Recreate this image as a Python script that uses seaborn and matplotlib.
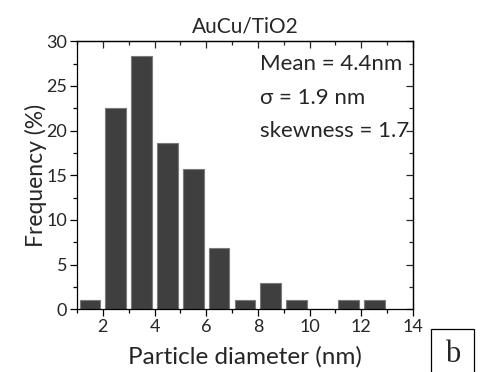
import matplotlib
matplotlib.use("Agg")
import matplotlib.pyplot as plt
import seaborn as sns
import pandas as pd
from matplotlib.ticker import MultipleLocator
from matplotlib.patches import Rectangle

# Particle size histogram (bin centres in nm, frequency in %)
diameter_nm = [1.5, 2.5, 3.5, 4.5, 5.5, 6.5, 7.5, 8.5, 9.5, 10.5, 11.5, 12.5]
frequency_pct = [1.0, 22.5, 28.4, 18.6, 15.7, 6.9, 1.0, 2.9, 1.0, 0.0, 1.0, 1.0]
stats_lines = ["Mean = 4.4nm", "\u03c3 = 1.9 nm", "skewness = 1.7"]
x_ticks = [2, 4, 6, 8, 10, 12, 14]
y_ticks = [0, 5, 10, 15, 20, 25, 30]

sns.set_style("white")
plt.rcParams["font.family"] = ["Lato", "DejaVu Sans"]

df = pd.DataFrame({"d": diameter_nm, "f": frequency_pct})

fig = plt.figure(figsize=(4.8, 3.72), dpi=100)
ax = fig.add_axes([0.1604, 0.1685, 0.70, 0.7204])

sns.barplot(data=df, x="d", y="f", native_scale=True, width=0.8,
            color="#3f3f3f", saturation=1, edgecolor="#7a7a7a",
            linewidth=0.8, ax=ax)

ax.set_xlim(1, 14)
ax.set_ylim(0, 30)
ax.set_xticks(x_ticks)
ax.set_xticklabels([str(t) for t in x_ticks])
ax.set_yticks(y_ticks)
ax.set_yticklabels([str(t) for t in y_ticks])
ax.xaxis.set_minor_locator(MultipleLocator(1))
ax.yaxis.set_minor_locator(MultipleLocator(2.5))

for s in ax.spines.values():
    s.set_visible(True)
    s.set_color("black")
    s.set_linewidth(0.9)

ax.tick_params(axis="both", which="major", direction="out", length=5,
               width=0.9, labelsize=13, color="black", pad=2,
               bottom=True, left=True, top=False, right=False)
ax.tick_params(axis="both", which="minor", direction="out", length=3,
               width=0.9, color="black", bottom=True, left=True,
               top=False, right=False)

# inward ticks on the top and right frame
top = ax.secondary_xaxis("top")
top.set_xticks(x_ticks)
top.xaxis.set_minor_locator(MultipleLocator(1))
top.tick_params(which="major", direction="in", length=5, width=0.9, labeltop=False)
top.tick_params(which="minor", direction="in", length=3, width=0.9)
top.spines["top"].set_linewidth(0.9)

right = ax.secondary_yaxis("right")
right.set_yticks(y_ticks)
right.yaxis.set_minor_locator(MultipleLocator(2.5))
right.tick_params(which="major", direction="in", length=5, width=0.9, labelright=False)
right.tick_params(which="minor", direction="in", length=3, width=0.9)
right.spines["right"].set_linewidth(0.9)

ax.set_xlabel("Particle diameter (nm)", fontsize=17.5, va="center")
ax.xaxis.set_label_coords(0.5, -0.178)
ax.set_ylabel("Frequency (%)", fontsize=16.5, va="center")
ax.yaxis.set_label_coords(-0.122, 0.5)
ax.set_title("AuCu/TiO2", fontsize=15, pad=6)

for txt, yb in zip(stats_lines, [26.8, 23.0, 19.3]):
    ax.text(8.1, yb, txt, fontsize=16, va="baseline", ha="left")

# panel letter in a box
fig.patches.append(Rectangle((431 / 480, -0.05), 43 / 480, 0.05 + 43 / 372,
                             transform=fig.transFigure, fill=False,
                             edgecolor="black", linewidth=0.9))
fig.text(452.5 / 480, 1 - 354 / 372, "b", fontsize=22,
         family=["Liberation Serif", "DejaVu Serif"],
         ha="center", va="center")

fig.savefig("out.png", dpi=100)
